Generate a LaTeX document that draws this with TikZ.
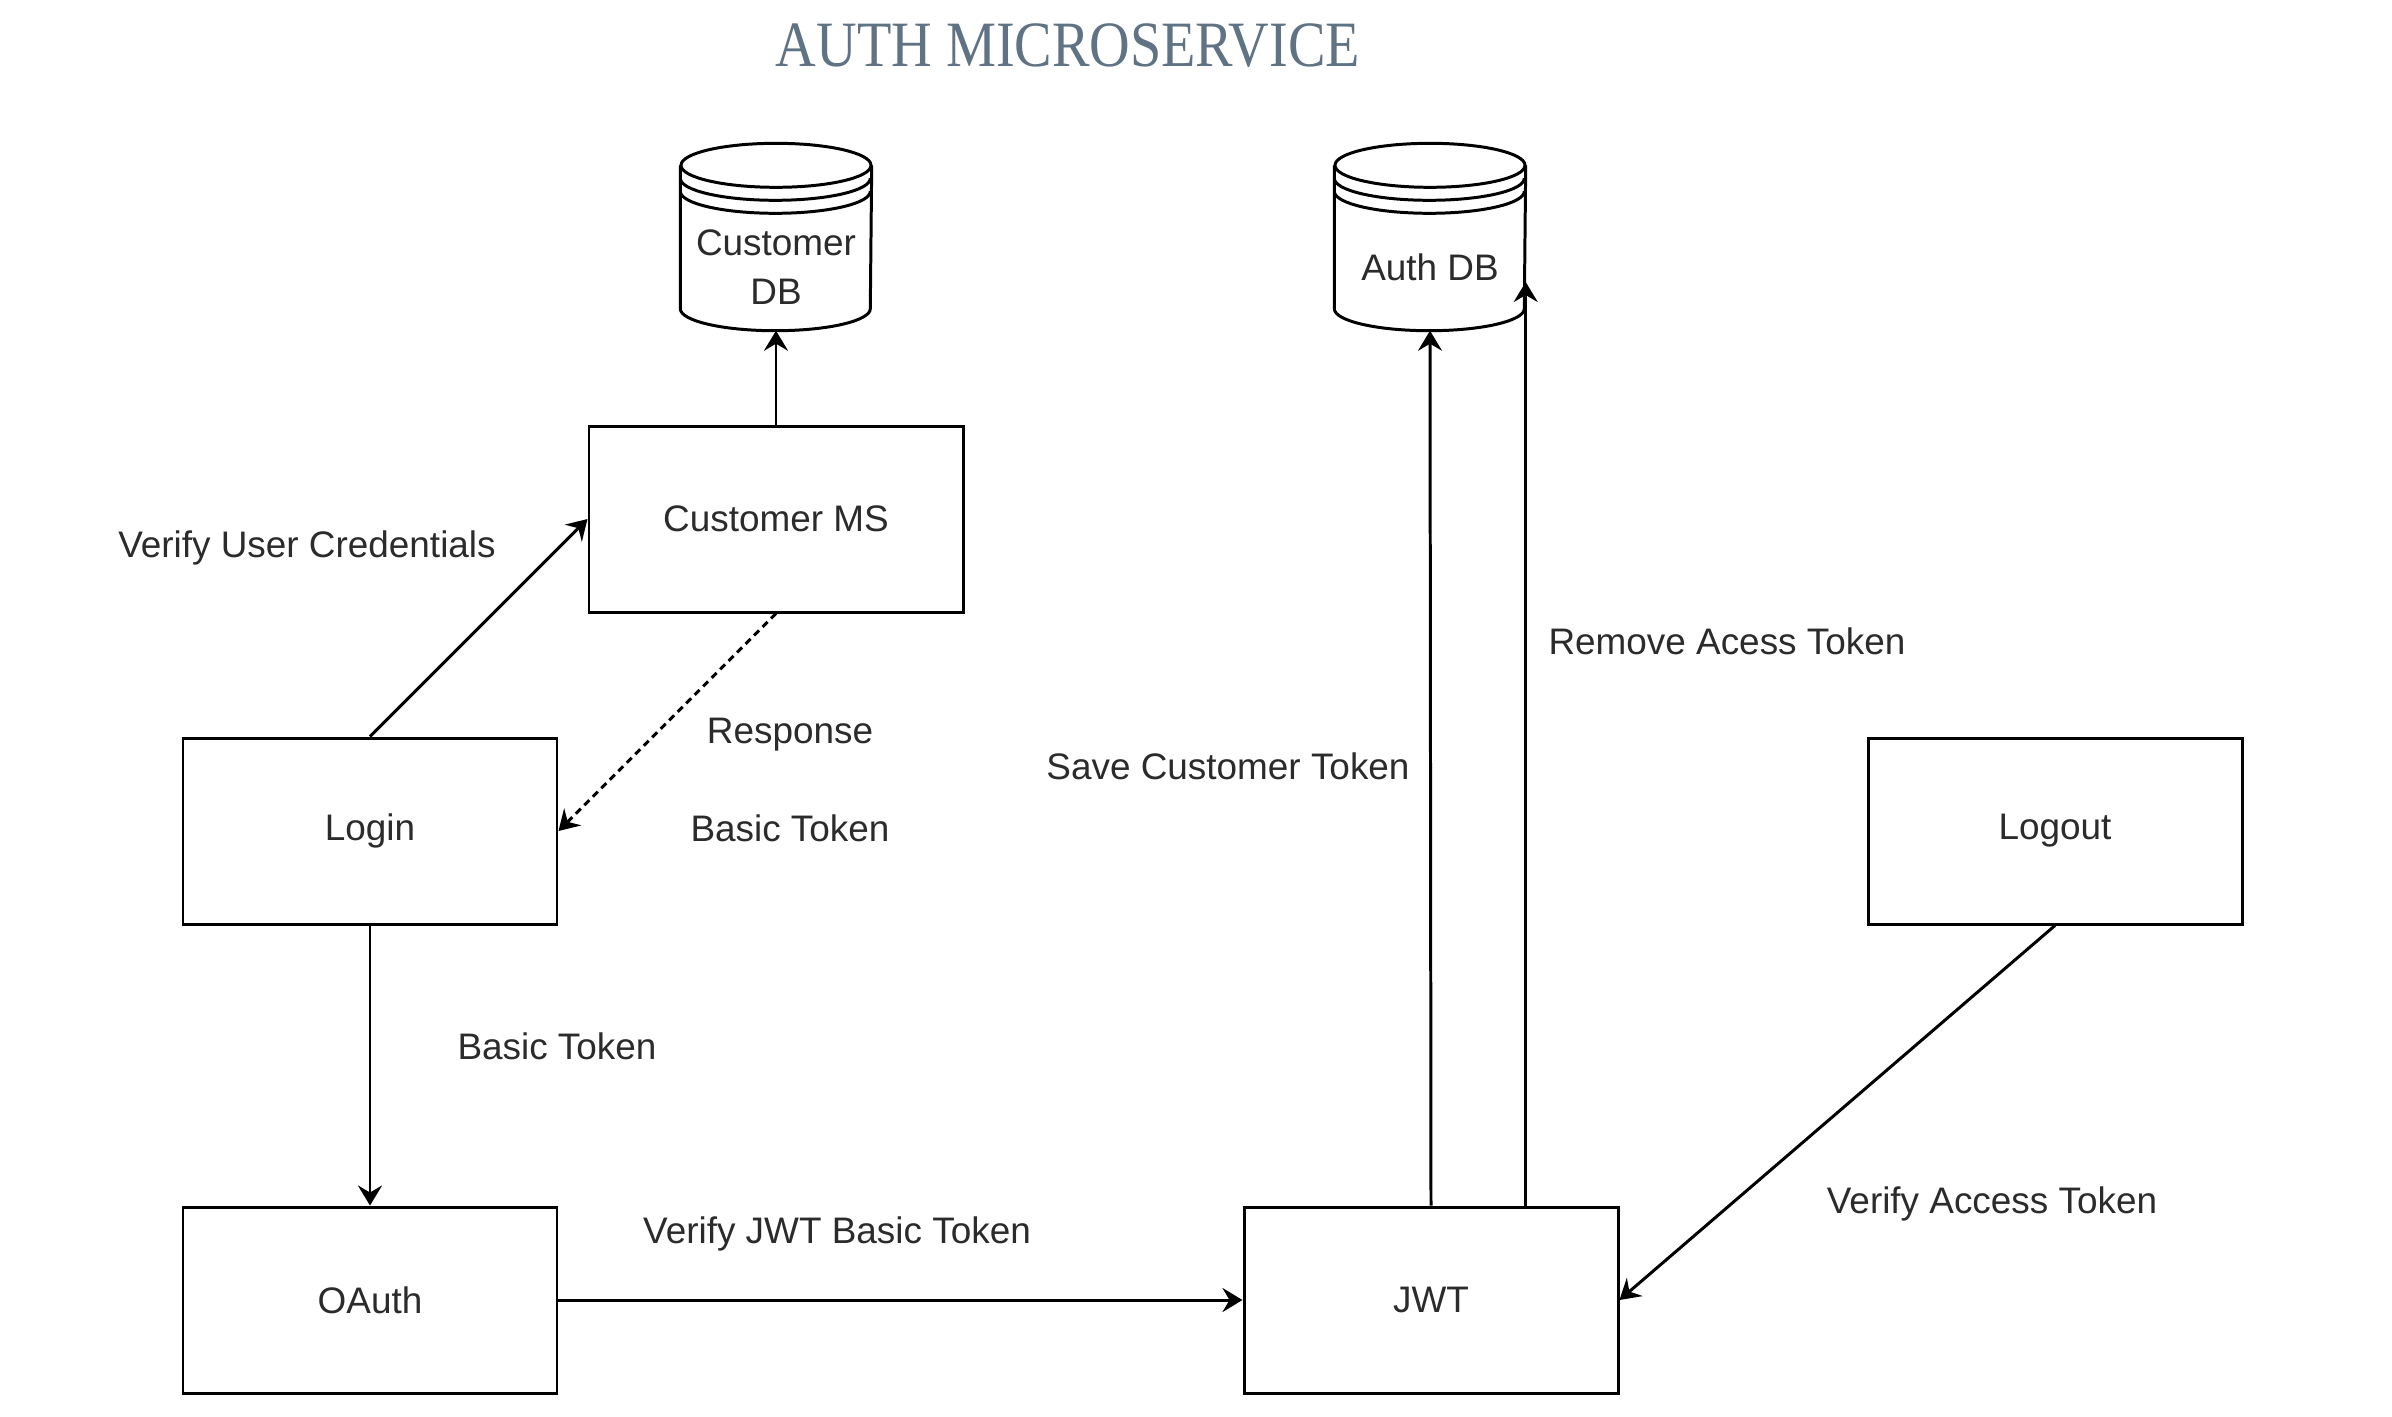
\documentclass[tikz,border=0pt]{standalone}
\usepackage{fontspec}
\setmainfont{Liberation Sans}
\newfontfamily\slabfont{Liberation Serif}
\usepackage{xcolor}
\usepackage{tikz}
\usetikzlibrary{
  arrows.meta,
  positioning,
  calc
}
\definecolor{AuthSlate}{HTML}{5F7384}
\definecolor{AuthInk}{HTML}{2B2B2B}
\definecolor{AuthLine}{HTML}{000000}

\tikzset{
  msbox/.style={draw=AuthLine,line width=0.85pt,minimum width=3.74cm,minimum height=1.86cm,
    text=AuthInk,font=\fontsize{10.5}{12.6}\selectfont},
  dbbody/.style={minimum width=1.9cm,minimum height=1.26cm,inner sep=0pt,align=center,
    text=AuthInk,font=\fontsize{10.5}{14}\selectfont},
  flowlbl/.style={text=AuthInk,font=\fontsize{10.5}{12.6}\selectfont},
  flow/.style={draw=AuthLine,line width=0.85pt,
    -{Stealth[length=0.2cm,width=0.24cm,inset=0.07cm]}}
}

% datastore outline drawn round a named body node
\newcommand{\dbdrum}[1]{%
  \draw[AuthLine,line width=0.85pt]
    ($(#1.north west)+(0,0.38)$) -- ($(#1.south west)+(0,0.22)$)
    arc[start angle=180,end angle=360,x radius=0.95cm,y radius=0.22cm]
    -- ($(#1.north east)+(0,0.38)$);
  \draw[AuthLine,line width=0.85pt] ($(#1.north)+(0,0.38)$) ellipse[x radius=0.95cm,y radius=0.22cm];
  \foreach \dy in {0.25,0.12}
    \draw[AuthLine,line width=0.85pt] ($(#1.north west)+(0,\dy)$)
      arc[start angle=180,end angle=360,x radius=0.95cm,y radius=0.22cm];
}

\begin{document}
\begin{tikzpicture}
  \useasboundingbox[fill=white] (0,0) rectangle (23.92,-14.16);

  \node[text=AuthSlate] (title) at (10.68,-0.46)
    {\scalebox{1}[1.15]{\slabfont\fontsize{16}{19}\selectfont AUTH MICROSERVICE}};

  % services
  \node[msbox] (cms) at (7.76,-5.19) {Customer MS};
  \node[msbox] (login) at (3.70,-8.31) {Login};
  \node[msbox] (oauth) at (3.70,-13.00) {OAuth};
  \node[msbox] (jwt) at (14.31,-13.00) {JWT};
  \node[msbox] (logout) at (20.55,-8.31) {Logout};

  % stores
  \node[dbbody] (custdb) at (7.76,-2.67) {Customer\\DB};
  \node[dbbody] (authdb) at (14.30,-2.67) {Auth DB};
  \dbdrum{custdb}
  \dbdrum{authdb}

  % labels
  \node[flowlbl] (lverify) at (3.07,-5.48) {Verify User Credentials};
  \node[flowlbl] (lresp) at (7.90,-7.35) {Response};
  \node[flowlbl] (lbasic) at (7.90,-8.28) {Basic Token};
  \node[flowlbl] (lbasictwo) at (5.57,-10.46) {Basic Token};
  \node[flowlbl] (ljwt) at (8.37,-12.34) {Verify JWT Basic Token};
  \node[flowlbl] (lsave) at (12.28,-7.66) {Save Customer Token};
  \node[flowlbl] (lremove) at (17.27,-6.41) {Remove Acess Token};
  \node[flowlbl] (laccess) at (19.92,-12.04) {Verify Access Token};

  % flows
  \draw[flow] (login.north) -- (cms.west);
  \draw[flow,dash pattern=on 0.07cm off 0.05cm] (cms.south) -- (login.east);
  \draw[flow] (cms.north) -- (custdb.south);
  \draw[flow] (login.south) -- (oauth.north);
  \draw[flow] (oauth.east) -- (jwt.west);
  \draw[flow] (jwt.north) -- (authdb.south);
  \coordinate (rmtop) at ($(authdb.east)+(0,-0.15)$);
  \draw[flow] (jwt.north -| rmtop) -- (rmtop);
  \draw[flow] (logout.south) -- (jwt.east);
\end{tikzpicture}
\end{document}
